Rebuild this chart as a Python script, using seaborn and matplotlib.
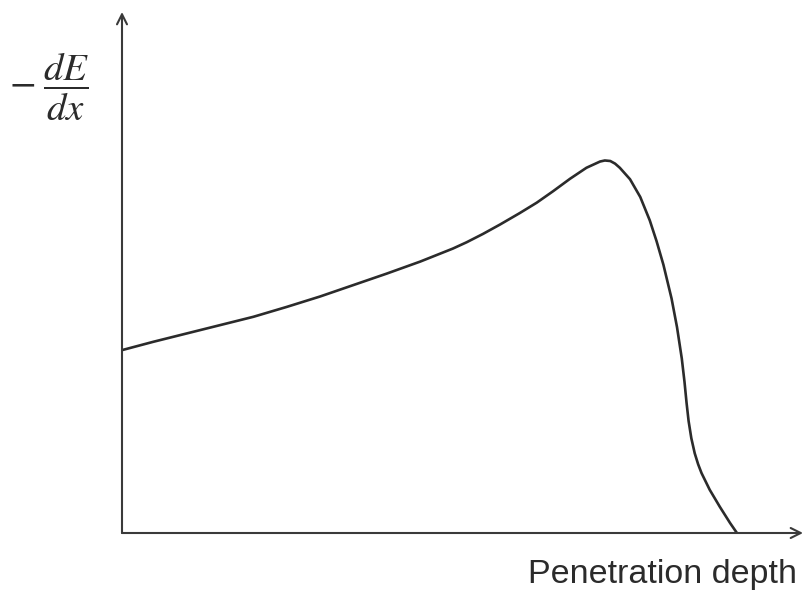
import matplotlib
matplotlib.use("Agg")
import matplotlib.pyplot as plt
import seaborn as sns
import pandas as pd

# Bragg curve (arbitrary units, axes span 0..100)
depth = [0, 4.6, 9.5, 14.4, 19.3, 24.2, 29.1, 34.0, 38.9, 43.8, 48.6, 50.6,
         53.0, 55.5, 58.4, 60.9, 63.3, 65.8, 68.2, 69.2, 70.2, 70.9, 71.7, 72.4,
         73.1, 74.6, 76.1, 77.5, 78.5, 79.5, 80.7, 81.5, 82.2, 82.6, 82.9, 83.2,
         83.6, 84.1, 84.6, 85.1, 86.3, 87.8, 89.3, 90.3]
stopping = [35.1, 36.7, 38.3, 39.9, 41.5, 43.4, 45.4, 47.6, 49.8, 52.1, 54.6, 55.8,
            57.4, 59.2, 61.4, 63.4, 65.6, 68.0, 70.1, 70.7, 71.3, 71.5, 71.4, 70.9,
            70.1, 67.9, 64.5, 60.0, 56.0, 51.5, 45.0, 39.5, 33.5, 29.0, 25.0, 21.5,
            18.2, 15.3, 13.2, 11.5, 8.3, 5.0, 1.9, 0.0]
x_label = "Penetration depth"
y_label = r"$-\;\dfrac{dE}{dx}$"

sns.set_theme(style="white")
plt.rcParams['mathtext.fontset'] = 'stix'
plt.rcParams['lines.solid_joinstyle'] = 'round'

W, H = 805, 590
fig = plt.figure(figsize=(W / 100, H / 100), dpi=100)
ax = fig.add_axes([122 / W, (H - 533) / H, (803 - 122) / W, (533 - 12) / H])

df = pd.DataFrame({"depth": depth, "stopping": stopping})
sns.lineplot(data=df, x="depth", y="stopping", ax=ax, color="#2b2b2b",
             linewidth=1.9, sort=False, estimator=None)

ax.set_xlim(0, 100)
ax.set_ylim(0, 100)
for s in ax.spines.values():
    s.set_visible(False)
ax.set_xticks([])
ax.set_yticks([])
ax.set_xlabel("")
ax.set_ylabel("")

arrow = dict(arrowstyle="->", lw=1.5, color="#3a3a3a", mutation_scale=18,
             shrinkA=0, shrinkB=0)
ax.annotate("", xy=(1, 0), xytext=(0, 0), xycoords="axes fraction",
            textcoords="axes fraction", arrowprops=arrow, annotation_clip=False)
ax.annotate("", xy=(0, 1), xytext=(0, 0), xycoords="axes fraction",
            textcoords="axes fraction", arrowprops=arrow, annotation_clip=False)

fig.text(49 / W, 1 - 87 / H, y_label, fontsize=28, ha="center", va="center",
         color="#2b2b2b")
fig.text(797 / W, 1 - 574 / H, x_label, fontsize=24.5, ha="right", va="center",
         color="#2b2b2b", family="Liberation Sans")

fig.savefig("out.png", dpi=100, facecolor="white")
